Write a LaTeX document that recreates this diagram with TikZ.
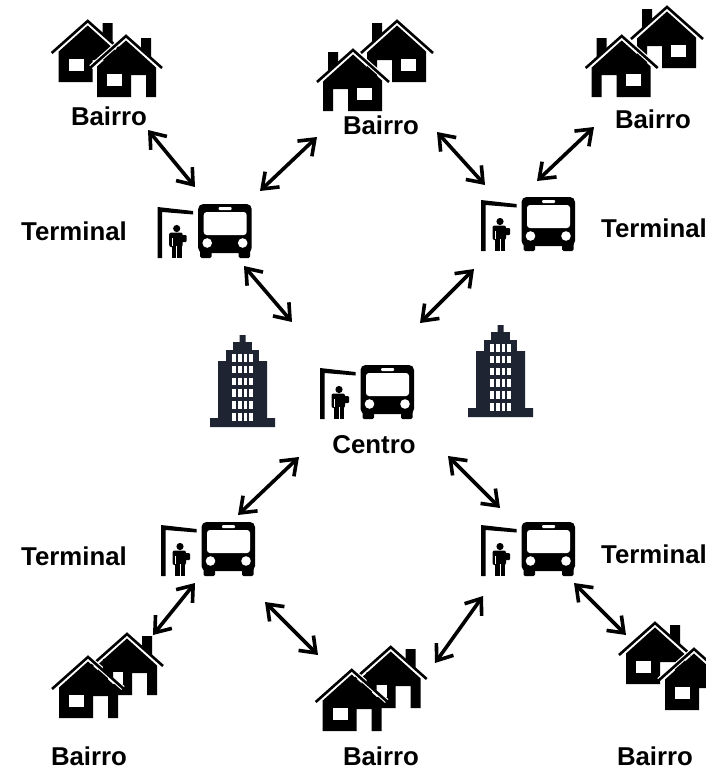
\documentclass[tikz,border=0pt]{standalone}
\usepackage{fontspec}
\setmainfont{Liberation Sans}
\usepackage{tikz}
\usetikzlibrary{arrows.meta, positioning}
\definecolor{navy}{HTML}{1F2433}
\tikzstyle{place} = [font = \fontsize{25.8}{30}\selectfont\bfseries, inner sep = 0]
\tikzstyle{link} = [
  <->, >={Straight Barb[length = 14pt, width = 21pt]},
  line width = 3.6pt, black
]
\tikzstyle{roof} = [line width = 2.6pt, miter limit = 10]
\tikzset{
  house/.pic = {
    \draw [white, line width = 5pt] (-35, 31) -- (0, 0) -- (35, 31);
    \fill [black] (15, 2) -- (25, 2) -- (25, 21) -- (15, 12) -- cycle;
    \draw [roof] (-36, 32) -- (0, 0) -- (36, 32);
    \fill [black] (0, 4.5) -- (-29, 30.5) -- (-29, 61) -- (5, 61) -- (5, 39) --
      (20, 39) -- (20, 61) -- (30, 61) -- (30, 31.5) -- cycle;
    \fill [white] (-19, 38) rectangle (-4, 50);
  },
  tower/.pic = {
    \fill [navy] (-3, 0) -- (3, 0) -- (3, 7) -- (9.3, 7) -- (9.3, 15) --
      (16.3, 15) -- (16.3, 26) -- (24.5, 26) -- (24.5, 83) -- (32.5, 83) --
      (32.5, 92) -- (-32.5, 92) -- (-32.5, 83) -- (-24.5, 83) -- (-24.5, 26) --
      (-16.3, 26) -- (-16.3, 15) -- (-9.3, 15) -- (-9.3, 7) -- (-3, 7) -- cycle;
    \foreach \row in {0, ..., 5} {
      \foreach \col in {0, ..., 3} {
        \fill [white] (-10.3 + 5.7 * \col, 19 + 11.8 * \row) rectangle +(3.6, 7.6);
      }
    }
  },
  stop/.pic = {
    % shelter
    \fill [black] (0, 0) -- (35.5, 4) -- (35.5, 7.5) -- (4.5, 5) -- (4.5, 51) -- (0, 51) -- cycle;
    % person
    \fill [black] (19, 21.5) circle (3.6);
    \fill [black, rounded corners = 2] (11.5, 25.5) rectangle (25, 40);
    \fill [black] (14, 36) rectangle (24, 51);
    \fill [black, rounded corners = 1] (23, 28) rectangle (29, 35);
    \draw [white, line width = 0.7pt] (19, 39) -- (19, 51);
    \draw [white, line width = 0.7pt] (14.5, 31) -- (14.5, 39);
    % bus
    \fill [black, rounded corners = 5] (40.5, -3) rectangle (94, 46);
    \fill [black, rounded corners = 1.5] (42.5, 40) rectangle (54, 51);
    \fill [black, rounded corners = 1.5] (81, 40) rectangle (92.5, 51);
    \fill [white, rounded corners = 3] (46, 5) rectangle (89, 28);
    \fill [white, rounded corners = 1] (61, 0) rectangle (74, 3);
    \fill [white] (49.5, 36) circle (4.8);
    \fill [white] (85, 36) circle (4.8);
  }
}

\begin{document}
\begin{tikzpicture}[x = 1pt, y = -1pt]
      \clip (0, 0) rectangle (706, 771);
      \fill [white] (0, 0) rectangle (706, 771);

      % towers
      \pic at (242.5, 335) {tower};
      \pic at (500.5, 325) {tower};

      % stops
      \pic at (157.7, 207) {stop};
      \pic at (481, 200) {stop};
      \pic at (320, 368) {stop};
      \pic at (161, 525) {stop};
      \pic at (481, 525) {stop};

      % houses, top
      \pic at (87.7, 21) {house};
      \pic at (126, 36) {house};
      \pic [xscale = -1] at (397, 21) {house};
      \pic [xscale = -1] at (353, 50) {house};
      \pic [xscale = -1] at (667, 7) {house};
      \pic [xscale = -1] at (621.7, 36) {house};
      % houses, bottom
      \pic at (127, 634) {house};
      \pic at (88, 657) {house};
      \pic at (390.7, 647) {house};
      \pic at (351.7, 670) {house};
      \pic at (655, 623) {house};
      \pic at (694, 649) {house};

      % labels
      \node [place] (bairro-0-0) at (109, 116) {Bairro};
      \node [place] (bairro-1-0) at (381, 125) {Bairro};
      \node [place] (bairro-2-0) at (653, 119) {Bairro};
      \node [place] (bairro-0-1) at (89, 756.5) {Bairro};
      \node [place] (bairro-1-1) at (381, 756) {Bairro};
      \node [place] (bairro-2-1) at (655, 756.5) {Bairro};
      \node [place] (terminal-0-0) at (74, 231) {Terminal};
      \node [place] (terminal-1-0) at (654, 228) {Terminal};
      \node [place] (terminal-0-1) at (74, 556) {Terminal};
      \node [place] (terminal-1-1) at (654, 554) {Terminal};
      \node [place] (centro) at (374, 445) {Centro};

      % link ends
      \coordinate (a-0) at (148, 130);
      \coordinate (b-0) at (195, 187);
      \coordinate (a-1) at (317, 137);
      \coordinate (b-1) at (260, 191);
      \coordinate (a-2) at (437, 132);
      \coordinate (b-2) at (485, 185);
      \coordinate (a-3) at (594, 127);
      \coordinate (b-3) at (537, 181);
      \coordinate (a-4) at (244, 266);
      \coordinate (b-4) at (292, 322);
      \coordinate (a-5) at (474, 269);
      \coordinate (b-5) at (420, 323);
      \coordinate (a-6) at (299, 457);
      \coordinate (b-6) at (238, 515);
      \coordinate (a-7) at (448, 456);
      \coordinate (b-7) at (500, 508);
      \coordinate (a-8) at (195, 583);
      \coordinate (b-8) at (153, 635);
      \coordinate (a-9) at (265, 602);
      \coordinate (b-9) at (318, 655);
      \coordinate (a-10) at (483, 596);
      \coordinate (b-10) at (435, 663);
      \coordinate (a-11) at (574, 583);
      \coordinate (b-11) at (626, 635);

      \draw [link] (a-0) -- (b-0);
      \draw [link] (a-1) -- (b-1);
      \draw [link] (a-2) -- (b-2);
      \draw [link] (a-3) -- (b-3);
      \draw [link] (a-4) -- (b-4);
      \draw [link] (a-5) -- (b-5);
      \draw [link] (a-6) -- (b-6);
      \draw [link] (a-7) -- (b-7);
      \draw [link] (a-8) -- (b-8);
      \draw [link] (a-9) -- (b-9);
      \draw [link] (a-10) -- (b-10);
      \draw [link] (a-11) -- (b-11);
\end{tikzpicture}
\end{document}
